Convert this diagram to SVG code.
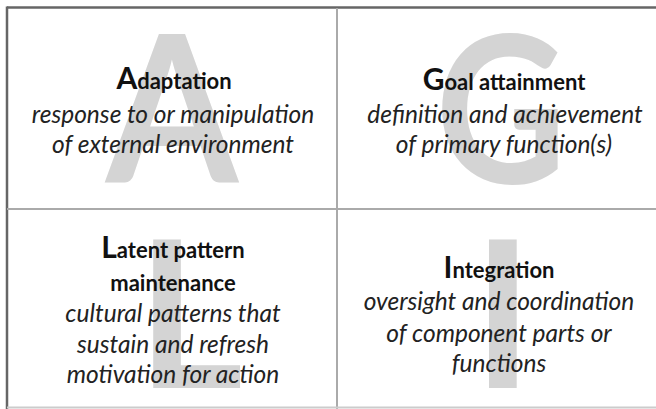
<svg xmlns="http://www.w3.org/2000/svg" width="656" height="409" viewBox="0 0 656 409">
<style>
.big{font-family:Lato,"Liberation Sans",sans-serif;font-weight:bold;font-size:205px;fill:#d4d4d4;text-anchor:middle}
.ttl{font-family:Lato,"Liberation Sans",sans-serif;font-weight:bold;font-size:22px;fill:#111;text-anchor:middle}
.ttl .cap{font-size:30px}
.sub{font-family:Lato,"Liberation Sans",sans-serif;font-style:italic;font-size:24.5px;fill:#222;text-anchor:middle}
</style>
<rect width="656" height="409" fill="#fff"/>
<g id="grid" fill="none">
<line x1="7" y1="7.5" x2="656" y2="7.5" stroke="#666" stroke-width="2.5"/>
<line x1="7" y1="6.5" x2="7" y2="409" stroke="#666" stroke-width="2.5"/>
<line x1="337" y1="8" x2="337" y2="409" stroke="#aaa" stroke-width="2"/>
<line x1="7" y1="209" x2="656" y2="209" stroke="#aaa" stroke-width="2"/>
<line x1="7" y1="407.5" x2="656" y2="407.5" stroke="#ccc" stroke-width="2"/>
</g>
<g id="adaptation">
<text class="big" x="172" y="183" transform="translate(172 0) scale(0.93 1) translate(-172 0)">A</text>
<text class="ttl" x="174" y="89"><tspan class="cap">A</tspan>daptation</text>
<text class="sub" x="173" y="123">response to or manipulation</text>
<text class="sub" x="173" y="153">of external environment</text>
</g>
<g id="goal">
<text class="big" x="501" y="183" transform="translate(501 0) scale(0.88 1) translate(-501 0)">G</text>
<text class="ttl" x="504" y="90"><tspan class="cap">G</tspan>oal attainment</text>
<text class="sub" x="505" y="123">definition and achievement</text>
<text class="sub" x="504" y="153">of primary function(s)</text>
</g>
<g id="latent">
<text class="big" x="190" y="388">L</text>
<text class="ttl" x="173" y="258"><tspan class="cap">L</tspan>atent pattern</text>
<text class="ttl" x="173" y="291">maintenance</text>
<text class="sub" x="173" y="322">cultural patterns that</text>
<text class="sub" x="173" y="353">sustain and refresh</text>
<text class="sub" x="173" y="383">motivation for action</text>
</g>
<g id="integration">
<text class="big" x="503" y="388">I</text>
<text class="ttl" x="499" y="278"><tspan class="cap">I</tspan>ntegration</text>
<text class="sub" x="499" y="310">oversight and coordination</text>
<text class="sub" x="499" y="342">of component parts or</text>
<text class="sub" x="499" y="372">functions</text>
</g>
</svg>
